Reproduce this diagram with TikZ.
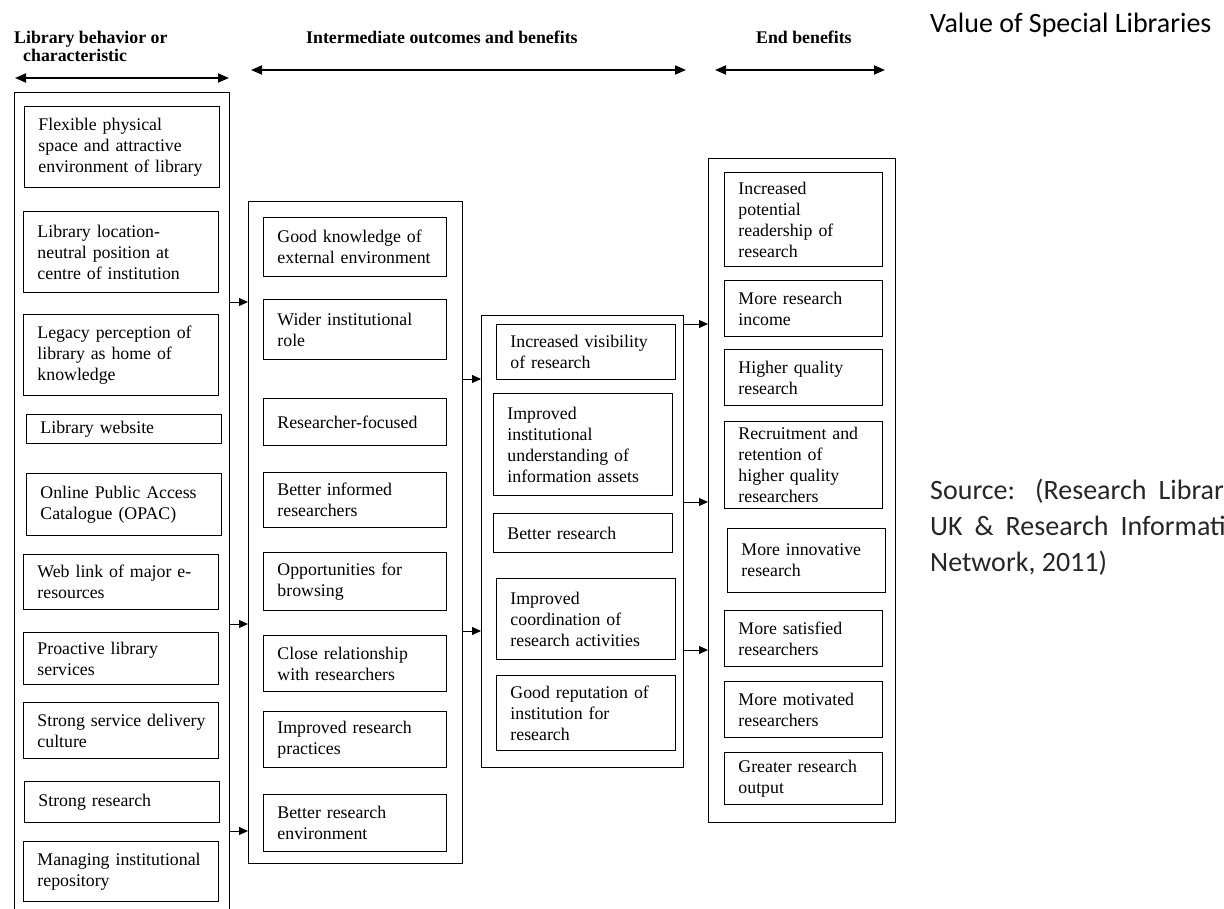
\documentclass[tikz,border=0pt]{standalone}
\usepackage{fontspec}
\setmainfont{Liberation Serif}
\newfontfamily\calibri{Carlito}
\usetikzlibrary{arrows.meta,positioning}

\newcommand\boxfont{\fontsize{17.8}{21}\selectfont\hyphenpenalty 10000\relax\exhyphenpenalty 10000\relax}

\tikzset{
  item/.style={draw, line width=0.9pt, anchor=north west, align=left,
    inner xsep=14pt, inner ysep=0pt, font=\boxfont},
  itemA/.style={item, text width=167pt},
  itemB/.style={item, text width=155pt},
  itemC/.style={item, text width=151pt},
  itemD/.style={item, text width=130pt},
  column/.style={draw, line width=0.9pt, anchor=north west, inner sep=0pt},
  link/.style={line width=0.9pt, -{Triangle[length=9pt,width=8pt]}},
  span/.style={line width=1.8pt, {Triangle[length=11pt,width=9pt]}-{Triangle[length=11pt,width=9pt]}},
  head/.style={anchor=base west, inner sep=0pt, font=\bfseries\fontsize{17.8}{21}\selectfont},
  note/.style={anchor=base west, inner sep=0pt, text=black!85, font=\calibri\fontsize{28}{36}\selectfont}
}

\begin{document}
\begin{tikzpicture}[x=1pt,y=-1pt]
  \useasboundingbox (0,0) rectangle (1224,909);
  \clip (0,0) rectangle (1224,909);

  % Headings
  \node[head] (h1a) at (14,44) {Library behavior or};
  \node[head] (h1b) at (23,62) {characteristic};
  \node[head] (h2) at (306,44) {Intermediate outcomes and benefits};
  \node[head] (h3) at (756,44) {End benefits};
  \coordinate (s1l) at (15,78);  \coordinate (s1r) at (229,78);
  \coordinate (s2l) at (251,70); \coordinate (s2r) at (686,70);
  \coordinate (s3l) at (715,70); \coordinate (s3r) at (885,70);
  \draw[span] (s1l) -- (s1r);
  \draw[span] (s2l) -- (s2r);
  \draw[span] (s3l) -- (s3r);

  % Title and source
  \node[note, text=black] (title) at (930,33) {Value of Special Libraries};
  \node[note] (src1) at (930,499) {\makebox[325pt][s]{Source: (Research Libraries}};
  \node[note] (src2) at (930,535) {\makebox[325pt][s]{UK \& Research Information}};
  \node[note] (src3) at (930,571) {Network, 2011)};

  % Library behavior or characteristic
  \node[column, minimum width=215pt, minimum height=840pt] (col1) at (14,92) {};
  \node[itemA, minimum height=81pt] (a1) at (24,106) {Flexible physical\\space and attractive\\environment of library};
  \node[itemA, minimum height=81pt] (a2) at (23,211) {Library location-\\neutral position at\\centre of institution};
  \node[itemA, minimum height=81pt] (a3) at (23,314) {Legacy perception of\\library as home of\\knowledge};
  \node[itemA, minimum height=29pt] (a4) at (26,414) {Library website};
  \node[itemA, minimum height=62pt] (a5) at (26,473) {Online Public Access\\Catalogue (OPAC)};
  \node[itemA, minimum height=55pt] (a6) at (23,554) {Web link of major e-\\resources};
  \node[itemA, minimum height=52pt] (a7) at (23,632) {Proactive library\\services};
  \node[itemA, minimum height=56pt] (a8) at (23,702) {\mbox{Strong service delivery}\\culture};
  \node[itemA, minimum height=41pt] (a9) at (24,781) {Strong research};
  \node[itemA, minimum height=60pt] (a10) at (23,841) {Managing institutional\\repository};

  % Intermediate outcomes
  \node[column, minimum width=214pt, minimum height=662pt] (col2) at (248,201) {};
  \node[itemB, minimum height=59pt] (b1) at (263,217) {Good knowledge of\\external environment};
  \node[itemB, minimum height=60pt] (b2) at (263,299) {Wider institutional\\role};
  \node[itemB, minimum height=47pt] (b3) at (263,398) {Researcher-focused};
  \node[itemB, minimum height=55pt] (b4) at (263,472) {Better informed\\researchers};
  \node[itemB, minimum height=58pt] (b5) at (263,552) {Opportunities for\\browsing};
  \node[itemB, minimum height=56pt] (b6) at (263,635) {Close relationship\\with researchers};
  \node[itemB, minimum height=56pt] (b7) at (263,711) {Improved research\\practices};
  \node[itemB, minimum height=57pt] (b8) at (263,794) {Better research\\environment};

  \node[column, minimum width=202pt, minimum height=452pt] (col3) at (481,315) {};
  \node[itemC, minimum height=55pt] (c1) at (496,324) {Increased visibility\\of research};
  \node[itemC, minimum height=102pt] (c2) at (493,393) {Improved\\institutional\\understanding of\\information assets};
  \node[itemC, minimum height=39pt] (c3) at (493,513) {Better research};
  \node[itemC, minimum height=81pt] (c4) at (496,578) {Improved\\coordination of\\research activities};
  \node[itemC, minimum height=75pt] (c5) at (496,675) {Good reputation of\\institution for\\research};

  % End benefits
  \node[column, minimum width=187pt, minimum height=664pt] (col4) at (708,158) {};
  \node[itemD, minimum height=94pt] (d1) at (724,172) {Increased\\potential\\readership of\\research};
  \node[itemD, minimum height=56pt] (d2) at (724,280) {More research\\income};
  \node[itemD, minimum height=56pt] (d3) at (724,349) {Higher quality\\research};
  \node[itemD, minimum height=87pt] (d4) at (724,421) {Recruitment and\\retention of\\higher quality\\researchers};
  \node[itemD, minimum height=64pt] (d5) at (727,528) {More innovative\\research};
  \node[itemD, minimum height=56pt] (d6) at (724,610) {More satisfied\\researchers};
  \node[itemD, minimum height=56pt] (d7) at (724,681) {More motivated\\researchers};
  \node[itemD, minimum height=52pt] (d8) at (724,752) {Greater research\\output};

  % Links between columns
  \coordinate (p1) at (229,302); \coordinate (p2) at (229,624); \coordinate (p3) at (229,831);
  \coordinate (q1) at (462,379); \coordinate (q2) at (462,631);
  \coordinate (r1) at (683,324); \coordinate (r2) at (683,502); \coordinate (r3) at (683,650);
  \foreach \p in {p1,p2,p3}
    \draw[link] (\p) -- (\p -| col2.west);
  \foreach \q in {q1,q2}
    \draw[link] (\q) -- (\q -| col3.west);
  \foreach \r in {r1,r2,r3}
    \draw[link] (\r) -- (\r -| col4.west);
\end{tikzpicture}
\end{document}
